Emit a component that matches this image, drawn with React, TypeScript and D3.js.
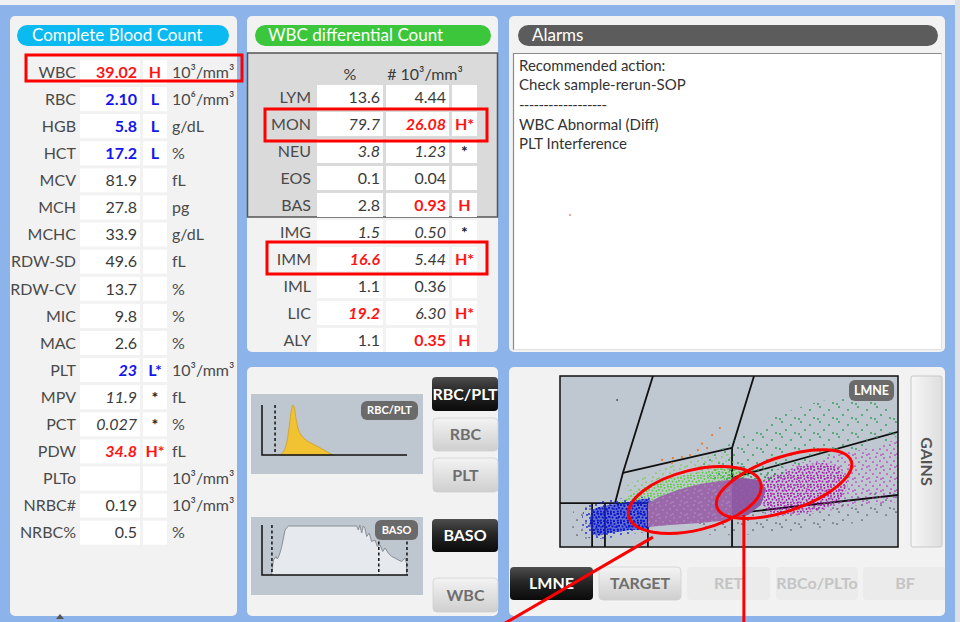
import React from 'react';
import * as d3 from 'd3';

const FONT = "Lato, 'Open Sans', 'DejaVu Sans', sans-serif";

// ---------- Complete Blood Count ----------
const cbcParams = ['WBC','RBC','HGB','HCT','MCV','MCH','MCHC','RDW-SD','RDW-CV','MIC','MAC','PLT','MPV','PCT','PDW','PLTo','NRBC#','NRBC%'];
const cbcValues = ['39.02','2.10','5.8','17.2','81.9','27.8','33.9','49.6','13.7','9.8','2.6','23','11.9','0.027','34.8','','0.19','0.5'];
const cbcFlags = ['H','L','L','L','','','','','','','','L*','*','*','H*','','',''];
const cbcUnits = ['10³/mm³','10⁶/mm³','g/dL','%','fL','pg','g/dL','fL','%','%','%','10³/mm³','fL','%','fL','10³/mm³','10³/mm³','%'];

// ---------- WBC differential ----------
const diffParams = ['LYM','MON','NEU','EOS','BAS','IMG','IMM','IML','LIC','ALY'];
const diffPct = ['13.6','79.7','3.8','0.1','2.8','1.5','16.6','1.1','19.2','1.1'];
const diffAbs = ['4.44','26.08','1.23','0.04','0.93','0.50','5.44','0.36','6.30','0.35'];
const diffFlags = ['','H*','*','','H','*','H*','','H*','H'];
const diffHighPart = ['','abs','','','abs','','pct','','pct','abs'];

// ---------- Alarms ----------
const alarmLines = ['Recommended action:','Check sample-rerun-SOP','------------------','WBC Abnormal (Diff)','PLT Interference'];

// ---------- Histograms (channel, relative count) ----------
const rbcPltHist = [[12,0],[14,4],[16,14],[17.5,32],[19,62],[20.3,90],[21.3,100],[22.3,94],[23.5,72],[25,52],[27,40],[29.5,32],[33,25],[37,19],[41,13],[45,6],[49,0]];
const rbcPltThresholds = [9];
const basoHist = [[6.3,0],[6.6,3],[7.8,30],[9.6,37],[10.5,32],[11.9,40],[13.5,57],[15.8,90],[18,98],[64.8,98],[66,90],[67,100],[68.3,84],[69.4,98],[70.5,94],[71.7,77],[73.5,84],[75,67],[77.4,70],[79,57],[80.8,60],[82.7,47],[84.2,54],[86.5,44],[88.8,37],[91,34],[93.4,30],[95.7,27],[97.9,34],[99,24],[99,0]];
const basoThresholds = [6.8, 80, 99.3];

// ---------- LMNE scatter (x: volume, y: light) ----------
const gateLines = [
  [[27.5,100],[18.6,43.3],[16.3,25.7]],
  [[57.4,100],[50.9,57.9],[50.9,0]],
  [[18.6,43.3],[50.9,57.9]],
  [[50.9,40.4],[100,67.3]],
  [[26.0,14.0],[100,30.4]],
  [[0,25.7],[26.0,25.7]],
  [[9.5,0],[9.5,25.7]],
  [[13.3,0],[13.3,25.7]],
  [[26.0,0],[26.0,25.7]],
];
const grayLeft = [[4.4,22.8],[9.5,24.6],[9.5,5.8],[4.4,7.0]];
const grayLower = [[41.4,15.8],[59.2,20.5],[76.9,25.7],[100,31.6],[100,20.5],[88.8,14.6],[71.0,9.9],[53.3,7.0],[41.4,8.8]];
const greenDarkSparse = [[41.4,45.0],[51.8,62.6],[65.1,77.2],[79.9,86.0],[96.2,83.0],[100,71.3],[100,65.5],[85.8,55.6],[68.0,46.2],[59.2,40.4],[51.8,40.4]];
const greenDarkDense = [[44,41.5],[52,47],[60,46],[67,44],[62,39],[54,39.5],[47,39]];
const greenLightSparse = [[19.2,34.5],[31.1,46.2],[41.4,52.0],[50.3,53.8],[51.8,46.8],[35.5,41.5],[22.2,32.2]];
const greenLight = [[17.2,24.6],[22.2,32.2],[28.1,37.4],[35.5,41.5],[44.4,45.0],[51.8,46.8],[55.6,45.0],[54.7,39.8],[47.3,38.0],[41.4,36.3],[35.5,33.3],[29.6,29.2],[26.0,25.7],[20.7,23.4]];
const magentaSparse = [[59.8,39.2],[76.9,52.0],[91.7,57.9],[100,61.4],[100,27.5],[88.8,24.6],[71.0,18.7],[60.7,19.3]];
const magentaDense = [[60.1,38.5],[68.0,45],[75.4,49],[82,47],[85,35],[80,24],[71.0,20],[62.1,20.5],[59.8,27.5]];
const blueSparse = [[7.5,23],[14,27.5],[21,28.5],[26.6,28.5],[26.6,10.5],[20,7.5],[13,5],[8,6],[6.5,14]];
const blueDense = [[9.8,21.6],[14.8,24.6],[20.7,26.3],[26.6,27.5],[26.6,11.7],[20.7,9.9],[14.8,8.2],[10.4,7.0],[8.9,12.9]];
const purpleCloud = [[26.0,25.7],[29.6,29.6],[35.5,33.8],[41.4,36.8],[47.3,38.6],[54.7,40.2],[59.2,39.0],[60.9,33.3],[59.4,24.6],[55.6,18.7],[50.3,15.8],[41.4,14.0],[32.5,12.9],[26.0,11.7]];
const purpleOverlap = [[50.9,40.9],[54.7,40.2],[59.2,39.0],[60.9,33.3],[59.4,24.6],[55.6,18.7],[50.9,16.4]];
const orangeEvents = [[47.3,69.6],[45.0,65.5],[43.5,57.9],[40.8,56.7],[38.5,53.8],[36.1,52.6],[33.4,52.0],[30.2,50.9],[33.1,49.1],[42,60.5]];
const strayEvents = [[16.9,86]];
const circledZones = [{ c: [39.9, 27.5], rx: 68, ry: 30, rot: -14 }, { c: [66.3, 36.8], rx: 71, ry: 27, rot: -19 }];
const pointerLines = [[[27.5,5.8],[-17.5,-46]],[[54.4,18.7],[54.4,-46]]];

// irregular dot textures (appearance only)
const TEX_DENSE = { w: 10, h: 9, pts: [[1,1],[4.5,2],[8,0.8],[2.5,4.5],[6.5,5],[9,3.8],[0.8,7.5],[4,8],[7.8,7.6]] };
const TEX_MED = { w: 14, h: 12, pts: [[2,2],[8,1],[12,5],[5,6],[1,10],[9,9],[13,11]] };
const TEX_SPARSE = { w: 19, h: 15, pts: [[3,2],[12,5],[7,10],[16,13],[1,14]] };

const Dots = ({ id, tex, r, color }: any) => (
  <pattern id={id} width={tex.w} height={tex.h} patternUnits="userSpaceOnUse">
    {tex.pts.map((p: number[], i: number) => <circle key={i} cx={p[0]} cy={p[1]} r={r} fill={color} />)}
  </pattern>
);

const Pill = ({ x, y, w, h, fill, text, size, tx, bold, anchor }: any) => (
  <g>
    <rect x={x} y={y} width={w} height={h} rx={h / 2} fill={fill} />
    <text x={tx ?? x + w / 2} y={y + h / 2} dy="0.35em" textAnchor={anchor ?? 'middle'} fill="#fff" fontSize={size} fontWeight={bold ? 700 : 400} fontFamily={FONT}>{text}</text>
  </g>
);

const Button = ({ x, y, w, h, kind, text }: any) => {
  const fill = kind === 'dark' ? 'url(#gDark)' : kind === 'light' ? 'url(#gLight)' : '#ebebeb';
  const color = kind === 'dark' ? '#ffffff' : kind === 'light' ? '#6e6e6e' : '#c4c4c4';
  return (
    <g>
      <rect x={x} y={y} width={w} height={h} rx={4} fill={fill} stroke={kind === 'light' ? '#d0d0d0' : 'none'} strokeWidth={0.8} />
      <text x={x + w / 2} y={y + h / 2} dy="0.36em" textAnchor="middle" fill={color} fontSize={16} fontWeight={700} fontFamily={FONT}>{text}</text>
    </g>
  );
};

export default function App() {
  const labelColor = '#4a4a4a';
  const valColor = '#3a3a3a';
  const RED = '#ff1414';
  const BLUE = '#1414f0';

  // scales
  const xS = d3.scaleLinear().domain([0, 100]).range([560, 898]);
  const yS = d3.scaleLinear().domain([0, 100]).range([547, 376]);
  const blob = d3.line<number[]>().x(d => xS(d[0])).y(d => yS(d[1])).curve(d3.curveCatmullRomClosed.alpha(0.5));
  const seg = d3.line<number[]>().x(d => xS(d[0])).y(d => yS(d[1]));
  const polyLin = (p: number[][]) => `${seg(p)}Z`;

  const rbcX = d3.scaleLinear().domain([0, 100]).range([262, 407]);
  const rbcY = d3.scaleLinear().domain([0, 100]).range([455, 405]);
  const rbcArea = d3.area<number[]>().x(d => rbcX(d[0])).y0(rbcY(0)).y1(d => rbcY(d[1])).curve(d3.curveMonotoneX);
  const basoX = d3.scaleLinear().domain([0, 100]).range([262, 408]);
  const basoY = d3.scaleLinear().domain([0, 100]).range([575, 525]);
  const basoArea = d3.area<number[]>().x(d => basoX(d[0])).y0(basoY(0)).y1(d => basoY(d[1]));
  const basoLine = d3.line<number[]>().x(d => basoX(d[0])).y(d => basoY(d[1]));

  const cbcRow = d3.scaleLinear().domain([0, 1]).range([72, 99.1]);
  const diffRow = d3.scaleLinear().domain([0, 1]).range([97, 124]);

  return (
    <svg width={960} height={622} style={{ position: 'fixed', left: 0, top: 0 }} fontFamily={FONT}>
      <defs>
        <linearGradient id="gDark" x1="0" y1="0" x2="0" y2="1">
          <stop offset="0%" stopColor="#4d4d4d" />
          <stop offset="45%" stopColor="#262626" />
          <stop offset="100%" stopColor="#0a0a0a" />
        </linearGradient>
        <linearGradient id="gLight" x1="0" y1="0" x2="0" y2="1">
          <stop offset="0%" stopColor="#f3f3f3" />
          <stop offset="100%" stopColor="#cfcfcf" />
        </linearGradient>
        <linearGradient id="gGains" x1="0" y1="0" x2="1" y2="0">
          <stop offset="0%" stopColor="#f6f6f6" />
          <stop offset="100%" stopColor="#dedede" />
        </linearGradient>
        <clipPath id="scClip"><rect x={560} y={376} width={338} height={171} /></clipPath>
        <clipPath id="panelBR"><rect x={509} y={367} width={436} height={249} /></clipPath>
        <Dots id="pBlueD" tex={TEX_DENSE} r={1.1} color="#0a10c8" />
        <Dots id="pBlueS" tex={TEX_MED} r={0.9} color="#1620cc" />
        <Dots id="pGreenL" tex={TEX_DENSE} r={0.95} color="#56cf34" />
        <Dots id="pGreenLS" tex={TEX_MED} r={0.85} color="#6ccc48" />
        <Dots id="pGreenD" tex={TEX_SPARSE} r={0.9} color="#2a9a55" />
        <Dots id="pGreenDD" tex={TEX_MED} r={0.95} color="#1f9848" />
        <Dots id="pMagD" tex={TEX_DENSE} r={0.95} color="#a514ad" />
        <Dots id="pMagS" tex={TEX_MED} r={0.85} color="#b02cb8" />
        <Dots id="pGray" tex={TEX_SPARSE} r={0.85} color="#4c5262" />
        <Dots id="pPurple" tex={TEX_MED} r={0.8} color="#c6aed6" />
      </defs>

      {/* background */}
      <rect x={0} y={0} width={960} height={622} fill="#8cb3ea" />
      <rect x={0} y={0} width={960} height={5} fill="#eef0f3" />
      <rect x={955} y={0} width={5} height={622} fill="#dde1e6" />

      {/* panels */}
      <rect x={10} y={16} width={227} height={600} rx={5} fill="#f2f2f2" />
      <rect x={247} y={16} width={251} height={336} rx={5} fill="#f2f2f2" />
      <rect x={509} y={16} width={436} height={336} rx={5} fill="#f2f2f2" />
      <rect x={247} y={367} width={251} height={249} rx={5} fill="#f2f2f2" />
      <rect x={509} y={367} width={436} height={249} rx={5} fill="#f2f2f2" />
      <path d="M56,619 L60,614 L64,619 Z" fill="#555" />

      {/* ---- Complete Blood Count ---- */}
      <Pill x={17} y={25} w={212} h={21} fill="#0bbaf0" text="Complete Blood Count" size={17} tx={32} anchor="start" />
      {cbcParams.map((p, i) => {
        const y = cbcRow(i);
        const f = cbcFlags[i];
        const color = f.startsWith('H') ? RED : f.startsWith('L') ? BLUE : valColor;
        const bold = f.startsWith('H') || f.startsWith('L');
        const italic = f.includes('*');
        const flagColor = f.startsWith('H') ? RED : f.startsWith('L') ? BLUE : '#222';
        return (
          <g key={p}>
            <rect x={80} y={y - 12} width={60} height={24} fill="#fff" />
            <rect x={143} y={y - 12} width={24} height={24} fill="#fff" />
            <text x={76} y={y} dy="0.36em" textAnchor="end" fill={labelColor} fontSize={16}>{p}</text>
            <text x={137} y={y} dy="0.36em" textAnchor="end" fill={color} fontSize={16} fontWeight={bold ? 700 : 400} fontStyle={italic ? 'italic' : 'normal'}>{cbcValues[i]}</text>
            <text x={155} y={y} dy="0.36em" textAnchor="middle" fill={flagColor} fontSize={16} fontWeight={700}>{f}</text>
            <text x={172} y={y} dy="0.36em" fill={labelColor} fontSize={16}>{cbcUnits[i]}</text>
          </g>
        );
      })}
      <rect x={26} y={55} width={216} height={26} fill="none" stroke="#ff0000" strokeWidth={3} />

      {/* ---- WBC differential ---- */}
      <Pill x={255} y={25} w={236} h={21} fill="#3cc63c" text="WBC differential Count" size={17} tx={268} anchor="start" />
      <rect x={247.5} y={53} width={250} height={164} fill="#dadada" stroke="#555" strokeWidth={1.5} />
      <text x={350} y={74} dy="0.36em" textAnchor="middle" fill={valColor} fontSize={16}>%</text>
      <text x={425} y={74} dy="0.36em" textAnchor="middle" fill={valColor} fontSize={16}># 10³/mm³</text>
      {diffParams.map((p, i) => {
        const y = diffRow(i);
        const f = diffFlags[i];
        const italic = f.includes('*');
        const pctHigh = diffHighPart[i] === 'pct';
        const absHigh = diffHighPart[i] === 'abs';
        return (
          <g key={p}>
            <rect x={317} y={y - 12} width={66} height={24} fill="#fff" />
            <rect x={386} y={y - 12} width={63} height={24} fill="#fff" />
            <rect x={452} y={y - 12} width={25} height={24} fill="#fff" />
            <text x={311} y={y} dy="0.36em" textAnchor="end" fill={labelColor} fontSize={16}>{p}</text>
            <text x={380} y={y} dy="0.36em" textAnchor="end" fill={pctHigh ? RED : valColor} fontSize={16} fontWeight={pctHigh ? 700 : 400} fontStyle={italic ? 'italic' : 'normal'}>{diffPct[i]}</text>
            <text x={446} y={y} dy="0.36em" textAnchor="end" fill={absHigh ? RED : valColor} fontSize={16} fontWeight={absHigh ? 700 : 400} fontStyle={italic ? 'italic' : 'normal'}>{diffAbs[i]}</text>
            <text x={464.5} y={y} dy="0.36em" textAnchor="middle" fill={f.startsWith('H') ? RED : '#222'} fontSize={16} fontWeight={700}>{f}</text>
          </g>
        );
      })}
      <rect x={265} y={109} width={222} height={32} fill="none" stroke="#ff0000" strokeWidth={3} />
      <rect x={267} y={242} width={220} height={32} fill="none" stroke="#ff0000" strokeWidth={3} />

      {/* ---- Alarms ---- */}
      <Pill x={518} y={25} w={420} h={21} fill="#5c5c5c" text="Alarms" size={17} tx={532} anchor="start" />
      <rect x={513} y={53} width={429} height={297} fill="#fff" />
      <path d="M513.5,350 L513.5,53.5 L942,53.5" fill="none" stroke="#8a8a8a" strokeWidth={1.2} />
      <path d="M941.5,53.5 L941.5,349.5 L513.5,349.5" fill="none" stroke="#e0e0e0" strokeWidth={1} />
      {alarmLines.map((t, i) => (
        <text key={i} x={519} y={70.7 + i * 19.6} fill="#333" fontSize={15} {...(t.startsWith('---') ? { textLength: 88, lengthAdjust: 'spacing' } : {})}>{t}</text>
      ))}
      <circle cx={570} cy={215} r={0.8} fill="#e03030" />

      {/* ---- RBC/PLT histogram ---- */}
      <rect x={251} y={394} width={172} height={80} fill="#bec6cf" />
      <path d={rbcArea(rbcPltHist) || ''} fill="#f1c232" stroke="#c9a02a" strokeWidth={0.8} />
      {rbcPltThresholds.map((t, i) => (
        <line key={i} x1={rbcX(t)} x2={rbcX(t)} y1={rbcY(100)} y2={rbcY(0)} stroke="#111" strokeWidth={1.5} strokeDasharray="3,2.5" />
      ))}
      <path d={`M${rbcX(0)},${rbcY(100)} L${rbcX(0)},${rbcY(0)} L${rbcX(100)},${rbcY(0)}`} fill="none" stroke="#111" strokeWidth={1.5} />
      <rect x={361} y={401} width={57} height={19} rx={6} fill="#6a6a6a" />
      <text x={389.5} y={410.5} dy="0.36em" textAnchor="middle" fill="#fff" fontSize={11} fontWeight={700}>RBC/PLT</text>

      {/* ---- BASO histogram ---- */}
      <rect x={251} y={517} width={172} height={78} fill="#bec6cf" />
      <path d={basoArea(basoHist) || ''} fill="#e6eaee" />
      <path d={basoLine(basoHist) || ''} fill="none" stroke="#8a8f96" strokeWidth={1} />
      {basoThresholds.map((t, i) => (
        <line key={i} x1={basoX(t)} x2={basoX(t)} y1={basoY(100)} y2={basoY(0)} stroke="#111" strokeWidth={1.5} strokeDasharray="3,2.5" />
      ))}
      <path d={`M${basoX(0)},${basoY(100)} L${basoX(0)},${basoY(0)} L${basoX(100)},${basoY(0)}`} fill="none" stroke="#111" strokeWidth={1.5} />
      <rect x={375} y={520} width={43} height={20} rx={6} fill="#6a6a6a" />
      <text x={396.5} y={530} dy="0.36em" textAnchor="middle" fill="#fff" fontSize={11} fontWeight={700}>BASO</text>

      <Button x={432} y={377} w={66} h={34} kind="dark" text="RBC/PLT" />
      <Button x={433} y={418} w={65} h={33} kind="light" text="RBC" />
      <Button x={433} y={458} w={65} h={34} kind="light" text="PLT" />
      <Button x={432} y={519} w={66} h={33} kind="dark" text="BASO" />
      <Button x={433} y={578} w={65} h={34} kind="light" text="WBC" />

      {/* ---- LMNE scatter ---- */}
      <rect x={560} y={376} width={338} height={171} fill="#bfc7d0" />
      <g clipPath="url(#scClip)">
        {gateLines.map((g, i) => (
          <path key={i} d={seg(g) || ''} fill="none" stroke="#111" strokeWidth={1.8} />
        ))}
        <path d={blob(greenDarkSparse) || ''} fill="url(#pGreenD)" />
        <path d={blob(greenLightSparse) || ''} fill="url(#pGreenLS)" />
        <path d={blob(grayLower) || ''} fill="url(#pGray)" />
        <path d={blob(grayLeft) || ''} fill="url(#pGray)" />
        <path d={blob(magentaSparse) || ''} fill="url(#pMagS)" />
        <path d={blob(magentaDense) || ''} fill="url(#pMagD)" />
        <path d={blob(greenDarkDense) || ''} fill="url(#pGreenDD)" />
        <path d={blob(greenLight) || ''} fill="url(#pGreenL)" />
        <path d={blob(blueSparse) || ''} fill="url(#pBlueS)" />
        <path d={blob(blueDense) || ''} fill="#2030d2" opacity={0.6} />
        <path d={blob(blueDense) || ''} fill="url(#pBlueD)" />
        <path d={polyLin(purpleCloud)} fill="#9b68aa" />
        <path d={polyLin(purpleCloud)} fill="url(#pPurple)" opacity={0.6} />
        <path d={polyLin(purpleOverlap)} fill="#8953a0" opacity={0.75} />
        {orangeEvents.map((p, i) => <circle key={i} cx={xS(p[0])} cy={yS(p[1])} r={1.1} fill="#e8782a" />)}
        {strayEvents.map((p, i) => <circle key={i} cx={xS(p[0])} cy={yS(p[1])} r={1} fill="#555" />)}
      </g>
      <rect x={560} y={376} width={338} height={171} fill="none" stroke="#111" strokeWidth={1.5} />
      <rect x={849} y={380} width={45} height={21} rx={6} fill="#6a6a6a" />
      <text x={871.5} y={390.5} dy="0.36em" textAnchor="middle" fill="#fff" fontSize={12.5} fontWeight={700}>LMNE</text>

      <rect x={911} y={376} width={31} height={171} rx={2} fill="url(#gGains)" stroke="#c8c8c8" strokeWidth={1} />
      <text x={926.5} y={461.5} dy="0.36em" textAnchor="middle" fill="#555" fontSize={16} fontWeight={700} transform="rotate(90 926.5 461.5)">GAINS</text>

      <Button x={510} y={567} w={83} h={33} kind="dark" text="LMNE" />
      <Button x={599} y={567} w={82} h={33} kind="light" text="TARGET" />
      <Button x={687} y={567} w={83} h={33} kind="off" text="RET" />
      <Button x={776} y={567} w={82} h={33} kind="off" text="RBCo/PLTo" />
      <g clipPath="url(#panelBR)">
        <Button x={863} y={567} w={84} h={33} kind="off" text="BF" />
      </g>

      {/* ---- annotations ---- */}
      {circledZones.map((z, i) => (
        <ellipse key={i} cx={xS(z.c[0])} cy={yS(z.c[1])} rx={z.rx} ry={z.ry} fill="none" stroke="#ff0000" strokeWidth={3} transform={`rotate(${z.rot} ${xS(z.c[0])} ${yS(z.c[1])})`} />
      ))}
      {pointerLines.map((l, i) => (
        <path key={i} d={seg(l) || ''} stroke="#ff0000" strokeWidth={3} fill="none" />
      ))}
    </svg>
  );
}
